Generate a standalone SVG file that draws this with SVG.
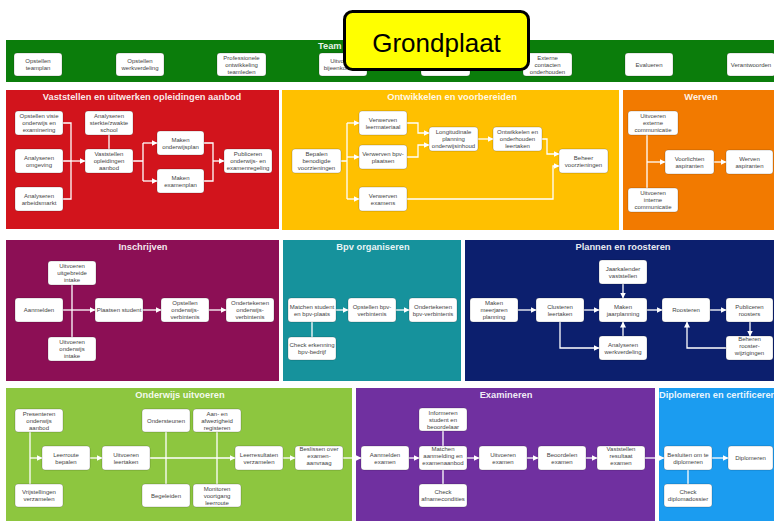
<svg xmlns="http://www.w3.org/2000/svg" width="774" height="521" viewBox="0 0 774 521">
<style>
.st{font-family:'Liberation Sans',Arial,sans-serif;font-weight:bold;font-size:9.3px;fill:#fff;fill-opacity:0.92;text-anchor:middle}
.node rect{fill:#fff;stroke:#000;stroke-opacity:0.3;stroke-width:0.6}
.node text{font-family:'Liberation Sans',Arial,sans-serif;font-size:6px;fill:#444;text-anchor:middle}
.conn path{fill:none;stroke:#fff;stroke-width:1.3}
.conn path.a{marker-end:url(#ah)}
</style>
<defs>
<marker id="ah" markerUnits="userSpaceOnUse" markerWidth="6" markerHeight="6" refX="5.5" refY="3" orient="auto">
<path d="M0,0 L6,3 L0,6 z" fill="#fff"/>
</marker>
</defs>
<rect width="774" height="521" fill="#fff"/>

<!-- sections -->
<g id="sections">
<rect x="6" y="40" width="768" height="42" fill="#0B7D0B"/>
<rect x="6" y="90" width="273" height="139" fill="#D2141C"/>
<rect x="282" y="90" width="337" height="140" fill="#FFC000"/>
<rect x="623" y="90" width="151" height="140" fill="#F27A00"/>
<rect x="6" y="240" width="273" height="141" fill="#8C0F55"/>
<rect x="283" y="240" width="178" height="141" fill="#16929C"/>
<rect x="465" y="240" width="309" height="141" fill="#0C1F6E"/>
<rect x="6" y="388" width="346" height="133" fill="#8DC63F"/>
<rect x="356" y="388" width="299" height="133" fill="#7030A0"/>
<rect x="659" y="388" width="115" height="133" fill="#1B9CF0"/>
<text class="st" x="318" y="49" style="text-anchor:start">Team</text>
<text class="st" x="142" y="100">Vaststellen en uitwerken opleidingen aanbod</text>
<text class="st" x="452" y="100">Ontwikkelen en voorbereiden</text>
<text class="st" x="701" y="100">Werven</text>
<text class="st" x="143" y="250">Inschrijven</text>
<text class="st" x="373" y="250">Bpv organiseren</text>
<text class="st" x="623" y="250">Plannen en roosteren</text>
<text class="st" x="180" y="398">Onderwijs uitvoeren</text>
<text class="st" x="506" y="398">Examineren</text>
<text class="st" x="659" y="398" style="text-anchor:start">Diplomeren en certificeren</text>
</g>

<!-- connectors -->
<g id="connectors" class="conn">
<!-- red -->
<path d="M63,123 H71 V199 H63 M63,161 H71"/>
<path class="a" d="M71,161 H85"/>
<path d="M109,135 V149"/>
<path d="M133,161 H143 M143,143 V181"/>
<path class="a" d="M143,143 H157"/>
<path class="a" d="M143,181 H157"/>
<path d="M204,143 H213 V181 H204"/>
<path class="a" d="M213,161 H224"/>
<!-- yellow -->
<path d="M341,161 H347 M347,123 V199"/>
<path class="a" d="M347,123 H359"/>
<path class="a" d="M347,157 H359"/>
<path class="a" d="M347,199 H359"/>
<path class="a" d="M407,123 H418 V133 H429"/>
<path class="a" d="M407,157 H418 V145 H429"/>
<path class="a" d="M478,139 H493"/>
<path class="a" d="M542,139 H547 V154 H559"/>
<path class="a" d="M407,199 H553 V166 H559"/>
<!-- orange -->
<path d="M647,135 V188"/>
<path class="a" d="M647,162 H665"/>
<path class="a" d="M714,162 H726"/>
<!-- magenta -->
<path d="M72,285 V337"/>
<path class="a" d="M63,310 H95"/>
<path class="a" d="M143,310 H161"/>
<path class="a" d="M209,310 H226"/>
<!-- teal -->
<path d="M312,322 V337"/>
<path class="a" d="M336,310 H348"/>
<path class="a" d="M396,310 H409"/>
<!-- navy -->
<path class="a" d="M518,310 H536"/>
<path class="a" d="M584,310 H599"/>
<path class="a" d="M623,284 V298"/>
<path class="a" d="M623,336 V322"/>
<path class="a" d="M560,322 V348 H599"/>
<path class="a" d="M647,310 H662"/>
<path class="a" d="M710,310 H726"/>
<path class="a" d="M750,322 V336"/>
<path class="a" d="M726,348 H687 V322"/>
<!-- light green -->
<path d="M30,432 V484"/>
<path class="a" d="M30,458 H42"/>
<path class="a" d="M90,458 H102"/>
<path class="a" d="M150,458 H235"/>
<path d="M166,432 V484"/>
<path d="M217,432 V484"/>
<path class="a" d="M283,458 H295"/>
<path class="a" d="M343,458 H361"/>
<!-- purple -->
<path d="M443,431 V484"/>
<path class="a" d="M409,458 H419"/>
<path class="a" d="M467,458 H479"/>
<path class="a" d="M527,458 H538"/>
<path class="a" d="M586,458 H597"/>
<path class="a" d="M645,458 H664"/>
<!-- blue -->
<path d="M688,470 V484"/>
<path class="a" d="M712,458 H728"/>
</g>

<!-- top band nodes -->
<g id="t1" class="node"><rect x="14" y="53" width="48" height="23" rx="3"/><text x="38" y="63"><tspan x="38" y="63">Opstellen</tspan><tspan x="38" y="70">teamplan</tspan></text></g>
<g id="t2" class="node"><rect x="116" y="53" width="48" height="23" rx="3"/><text x="140" y="63"><tspan x="140" y="63">Opstellen</tspan><tspan x="140" y="70">werkverdeling</tspan></text></g>
<g id="t3" class="node"><rect x="217" y="53" width="49" height="23" rx="3"/><text x="241.5" y="59.5"><tspan x="241.5" y="59.5">Professionele</tspan><tspan x="241.5" y="66.5">ontwikkeling</tspan><tspan x="241.5" y="73.5">teamleden</tspan></text></g>
<g id="t4" class="node"><rect x="319" y="53" width="48" height="23" rx="3"/><text x="343" y="63"><tspan x="343" y="63">Uitvoeren</tspan><tspan x="343" y="70">bijeenkomsten</tspan></text></g>
<g id="t5" class="node"><rect x="421" y="53" width="49" height="23" rx="3"/></g>
<g id="t6" class="node"><rect x="523" y="53" width="49" height="23" rx="3"/><text x="547.5" y="59.5"><tspan x="547.5" y="59.5">Externe</tspan><tspan x="547.5" y="66.5">contacten</tspan><tspan x="547.5" y="73.5">onderhouden</tspan></text></g>
<g id="t7" class="node"><rect x="625" y="53" width="48" height="23" rx="3"/><text x="649" y="66.5">Evalueren</text></g>
<g id="t8" class="node"><rect x="727" y="53" width="48" height="23" rx="3"/><text x="751" y="66.5">Verantwoorden</text></g>

<!-- red -->
<g id="r1" class="node"><rect x="15" y="111" width="48" height="24" rx="3"/><text x="39" y="118"><tspan x="39" y="118">Opstellen visie</tspan><tspan x="39" y="125">onderwijs en</tspan><tspan x="39" y="132">examinering</tspan></text></g>
<g id="r2" class="node"><rect x="15" y="149" width="48" height="24" rx="3"/><text x="39" y="159.5"><tspan x="39" y="159.5">Analyseren</tspan><tspan x="39" y="166.5">omgeving</tspan></text></g>
<g id="r3" class="node"><rect x="15" y="187" width="48" height="24" rx="3"/><text x="39" y="197.5"><tspan x="39" y="197.5">Analyseren</tspan><tspan x="39" y="204.5">arbeidsmarkt</tspan></text></g>
<g id="r4" class="node"><rect x="85" y="111" width="48" height="24" rx="3"/><text x="109" y="118"><tspan x="109" y="118">Analyseren</tspan><tspan x="109" y="125">sterkte/zwakte</tspan><tspan x="109" y="132">school</tspan></text></g>
<g id="r5" class="node"><rect x="85" y="149" width="48" height="24" rx="3"/><text x="109" y="156"><tspan x="109" y="156">Vaststellen</tspan><tspan x="109" y="163">opleidingen</tspan><tspan x="109" y="170">aanbod</tspan></text></g>
<g id="r6" class="node"><rect x="157" y="131" width="47" height="24" rx="3"/><text x="180.5" y="141.5"><tspan x="180.5" y="141.5">Maken</tspan><tspan x="180.5" y="148.5">onderwijsplan</tspan></text></g>
<g id="r7" class="node"><rect x="157" y="169" width="47" height="24" rx="3"/><text x="180.5" y="179.5"><tspan x="180.5" y="179.5">Maken</tspan><tspan x="180.5" y="186.5">examenplan</tspan></text></g>
<g id="r8" class="node"><rect x="224" y="149" width="48" height="24" rx="3"/><text x="248" y="156"><tspan x="248" y="156">Publiceren</tspan><tspan x="248" y="163">onderwijs- en</tspan><tspan x="248" y="170">examenregeling</tspan></text></g>

<!-- yellow -->
<g id="y1" class="node"><rect x="292" y="149" width="49" height="24" rx="3"/><text x="316.5" y="156"><tspan x="316.5" y="156">Bepalen</tspan><tspan x="316.5" y="163">benodigde</tspan><tspan x="316.5" y="170">voorzieningen</tspan></text></g>
<g id="y2" class="node"><rect x="359" y="111" width="48" height="24" rx="3"/><text x="383" y="121.5"><tspan x="383" y="121.5">Verwerven</tspan><tspan x="383" y="128.5">leermateriaal</tspan></text></g>
<g id="y3" class="node"><rect x="359" y="145" width="48" height="24" rx="3"/><text x="383" y="155.5"><tspan x="383" y="155.5">Verwerven bpv-</tspan><tspan x="383" y="162.5">plaatsen</tspan></text></g>
<g id="y4" class="node"><rect x="359" y="187" width="48" height="24" rx="3"/><text x="383" y="197.5"><tspan x="383" y="197.5">Verwerven</tspan><tspan x="383" y="204.5">examens</tspan></text></g>
<g id="y5" class="node"><rect x="429" y="127" width="49" height="24" rx="3"/><text x="453.5" y="134"><tspan x="453.5" y="134">Longitudinale</tspan><tspan x="453.5" y="141">planning</tspan><tspan x="453.5" y="148">onderwijsinhoud</tspan></text></g>
<g id="y6" class="node"><rect x="493" y="127" width="49" height="24" rx="3"/><text x="517.5" y="134"><tspan x="517.5" y="134">Ontwikkelen en</tspan><tspan x="517.5" y="141">onderhouden</tspan><tspan x="517.5" y="148">leertaken</tspan></text></g>
<g id="y7" class="node"><rect x="559" y="149" width="49" height="24" rx="3"/><text x="583.5" y="159.5"><tspan x="583.5" y="159.5">Beheer</tspan><tspan x="583.5" y="166.5">voorzieningen</tspan></text></g>

<!-- orange -->
<g id="o1" class="node"><rect x="628" y="111" width="50" height="24" rx="3"/><text x="653" y="118"><tspan x="653" y="118">Uitvoeren</tspan><tspan x="653" y="125">externe</tspan><tspan x="653" y="132">communicatie</tspan></text></g>
<g id="o2" class="node"><rect x="628" y="188" width="50" height="24" rx="3"/><text x="653" y="195"><tspan x="653" y="195">Uitvoeren</tspan><tspan x="653" y="202">interne</tspan><tspan x="653" y="209">communicatie</tspan></text></g>
<g id="o3" class="node"><rect x="665" y="150" width="49" height="24" rx="3"/><text x="689.5" y="160.5"><tspan x="689.5" y="160.5">Voorlichten</tspan><tspan x="689.5" y="167.5">aspiranten</tspan></text></g>
<g id="o4" class="node"><rect x="726" y="150" width="47" height="24" rx="3"/><text x="749.5" y="160.5"><tspan x="749.5" y="160.5">Werven</tspan><tspan x="749.5" y="167.5">aspiranten</tspan></text></g>

<!-- magenta -->
<g id="m1" class="node"><rect x="48" y="261" width="48" height="24" rx="3"/><text x="72" y="268"><tspan x="72" y="268">Uitvoeren</tspan><tspan x="72" y="275">uitgebreide</tspan><tspan x="72" y="282">intake</tspan></text></g>
<g id="m2" class="node"><rect x="15" y="298" width="48" height="24" rx="3"/><text x="39" y="312">Aanmelden</text></g>
<g id="m3" class="node"><rect x="48" y="337" width="48" height="24" rx="3"/><text x="72" y="344"><tspan x="72" y="344">Uitvoeren</tspan><tspan x="72" y="351">onderwijs</tspan><tspan x="72" y="358">intake</tspan></text></g>
<g id="m4" class="node"><rect x="95" y="298" width="48" height="24" rx="3"/><text x="119" y="312">Plaatsen student</text></g>
<g id="m5" class="node"><rect x="161" y="298" width="48" height="24" rx="3"/><text x="185" y="305"><tspan x="185" y="305">Opstellen</tspan><tspan x="185" y="312">onderwijs-</tspan><tspan x="185" y="319">verbintenis</tspan></text></g>
<g id="m6" class="node"><rect x="226" y="298" width="48" height="24" rx="3"/><text x="250" y="305"><tspan x="250" y="305">Ondertekenen</tspan><tspan x="250" y="312">onderwijs-</tspan><tspan x="250" y="319">verbintenis</tspan></text></g>

<!-- teal -->
<g id="b1" class="node"><rect x="288" y="298" width="48" height="24" rx="3"/><text x="312" y="308.5"><tspan x="312" y="308.5">Matchen student</tspan><tspan x="312" y="315.5">en bpv-plaats</tspan></text></g>
<g id="b2" class="node"><rect x="348" y="298" width="48" height="24" rx="3"/><text x="372" y="308.5"><tspan x="372" y="308.5">Opstellen bpv-</tspan><tspan x="372" y="315.5">verbintenis</tspan></text></g>
<g id="b3" class="node"><rect x="409" y="298" width="48" height="24" rx="3"/><text x="433" y="308.5"><tspan x="433" y="308.5">Ondertekenen</tspan><tspan x="433" y="315.5">bpv-verbintenis</tspan></text></g>
<g id="b4" class="node"><rect x="288" y="337" width="48" height="23" rx="3"/><text x="312" y="347"><tspan x="312" y="347">Check erkenning</tspan><tspan x="312" y="354">bpv-bedrijf</tspan></text></g>

<!-- navy -->
<g id="p1" class="node"><rect x="470" y="298" width="48" height="24" rx="3"/><text x="494" y="305"><tspan x="494" y="305">Maken</tspan><tspan x="494" y="312">meerjaren</tspan><tspan x="494" y="319">planning</tspan></text></g>
<g id="p2" class="node"><rect x="536" y="298" width="48" height="24" rx="3"/><text x="560" y="308.5"><tspan x="560" y="308.5">Clusteren</tspan><tspan x="560" y="315.5">leertaken</tspan></text></g>
<g id="p3" class="node"><rect x="599" y="298" width="48" height="24" rx="3"/><text x="623" y="308.5"><tspan x="623" y="308.5">Maken</tspan><tspan x="623" y="315.5">jaarplanning</tspan></text></g>
<g id="p4" class="node"><rect x="599" y="260" width="48" height="24" rx="3"/><text x="623" y="270.5"><tspan x="623" y="270.5">Jaarkalender</tspan><tspan x="623" y="277.5">vaststellen</tspan></text></g>
<g id="p5" class="node"><rect x="599" y="336" width="48" height="24" rx="3"/><text x="623" y="346.5"><tspan x="623" y="346.5">Analyseren</tspan><tspan x="623" y="353.5">werkverdeling</tspan></text></g>
<g id="p6" class="node"><rect x="662" y="298" width="48" height="24" rx="3"/><text x="686" y="312">Roosteren</text></g>
<g id="p7" class="node"><rect x="726" y="298" width="47" height="24" rx="3"/><text x="749.5" y="308.5"><tspan x="749.5" y="308.5">Publiceren</tspan><tspan x="749.5" y="315.5">roosters</tspan></text></g>
<g id="p8" class="node"><rect x="726" y="336" width="47" height="24" rx="3"/><text x="749.5" y="341"><tspan x="749.5" y="341">Beheren</tspan><tspan x="749.5" y="348">rooster-</tspan><tspan x="749.5" y="355">wijzigingen</tspan></text></g>

<!-- light green -->
<g id="g1" class="node"><rect x="15" y="409" width="48" height="23" rx="3"/><text x="39" y="415.5"><tspan x="39" y="415.5">Presenteren</tspan><tspan x="39" y="422.5">onderwijs</tspan><tspan x="39" y="429.5">aanbod</tspan></text></g>
<g id="g2" class="node"><rect x="15" y="484" width="48" height="23" rx="3"/><text x="39" y="494"><tspan x="39" y="494">Vrijstellingen</tspan><tspan x="39" y="501">verzamelen</tspan></text></g>
<g id="g3" class="node"><rect x="42" y="446" width="48" height="24" rx="3"/><text x="66" y="456.5"><tspan x="66" y="456.5">Leerroute</tspan><tspan x="66" y="463.5">bepalen</tspan></text></g>
<g id="g4" class="node"><rect x="102" y="446" width="48" height="24" rx="3"/><text x="126" y="456.5"><tspan x="126" y="456.5">Uitvoeren</tspan><tspan x="126" y="463.5">leertaken</tspan></text></g>
<g id="g5" class="node"><rect x="142" y="409" width="48" height="23" rx="3"/><text x="166" y="422.5">Ondersteunen</text></g>
<g id="g6" class="node"><rect x="142" y="484" width="48" height="23" rx="3"/><text x="166" y="497.5">Begeleiden</text></g>
<g id="g7" class="node"><rect x="193" y="409" width="48" height="23" rx="3"/><text x="217" y="415.5"><tspan x="217" y="415.5">Aan- en</tspan><tspan x="217" y="422.5">afwezigheid</tspan><tspan x="217" y="429.5">registeren</tspan></text></g>
<g id="g8" class="node"><rect x="193" y="484" width="48" height="23" rx="3"/><text x="217" y="490.5"><tspan x="217" y="490.5">Monitoren</tspan><tspan x="217" y="497.5">voortgang</tspan><tspan x="217" y="504.5">leerroute</tspan></text></g>
<g id="g9" class="node"><rect x="235" y="446" width="48" height="24" rx="3"/><text x="259" y="456.5"><tspan x="259" y="456.5">Leerresultaten</tspan><tspan x="259" y="463.5">verzamelen</tspan></text></g>
<g id="g10" class="node"><rect x="295" y="446" width="48" height="24" rx="3"/><text x="319" y="451"><tspan x="319" y="451">Beslissen over</tspan><tspan x="319" y="458">examen-</tspan><tspan x="319" y="465">aanvraag</tspan></text></g>

<!-- purple -->
<g id="e1" class="node"><rect x="419" y="408" width="48" height="23" rx="3"/><text x="443" y="414.5"><tspan x="443" y="414.5">Informeren</tspan><tspan x="443" y="421.5">student en</tspan><tspan x="443" y="428.5">beoordelaar</tspan></text></g>
<g id="e2" class="node"><rect x="361" y="446" width="48" height="24" rx="3"/><text x="385" y="456.5"><tspan x="385" y="456.5">Aanmelden</tspan><tspan x="385" y="463.5">examen</tspan></text></g>
<g id="e3" class="node"><rect x="419" y="446" width="48" height="24" rx="3"/><text x="443" y="451"><tspan x="443" y="451">Matchen</tspan><tspan x="443" y="458">aanmelding en</tspan><tspan x="443" y="465">examenaanbod</tspan></text></g>
<g id="e4" class="node"><rect x="419" y="484" width="48" height="23" rx="3"/><text x="443" y="494"><tspan x="443" y="494">Check</tspan><tspan x="443" y="501">afnamecondities</tspan></text></g>
<g id="e5" class="node"><rect x="479" y="446" width="48" height="24" rx="3"/><text x="503" y="456.5"><tspan x="503" y="456.5">Uitvoeren</tspan><tspan x="503" y="463.5">examen</tspan></text></g>
<g id="e6" class="node"><rect x="538" y="446" width="48" height="24" rx="3"/><text x="562" y="456.5"><tspan x="562" y="456.5">Beoordelen</tspan><tspan x="562" y="463.5">examen</tspan></text></g>
<g id="e7" class="node"><rect x="597" y="446" width="48" height="24" rx="3"/><text x="621" y="451"><tspan x="621" y="451">Vaststellen</tspan><tspan x="621" y="458">resultaat</tspan><tspan x="621" y="465">examen</tspan></text></g>

<!-- blue -->
<g id="d1" class="node"><rect x="664" y="446" width="48" height="24" rx="3"/><text x="688" y="456.5"><tspan x="688" y="456.5">Besluiten om te</tspan><tspan x="688" y="463.5">diplomeren</tspan></text></g>
<g id="d2" class="node"><rect x="728" y="446" width="45" height="24" rx="3"/><text x="750.5" y="460">Diplomeren</text></g>
<g id="d3" class="node"><rect x="664" y="484" width="48" height="23" rx="3"/><text x="688" y="494"><tspan x="688" y="494">Check</tspan><tspan x="688" y="501">diplomadossier</tspan></text></g>

<!-- title label -->
<g id="grondplaat">
<rect x="344.5" y="11.5" width="184" height="58" rx="8" fill="#FFFF00" stroke="#000" stroke-width="3"/>
<text x="436.5" y="52" font-family="'Liberation Sans',Arial,sans-serif" font-size="26" fill="#000" text-anchor="middle">Grondplaat</text>
</g>
</svg>
